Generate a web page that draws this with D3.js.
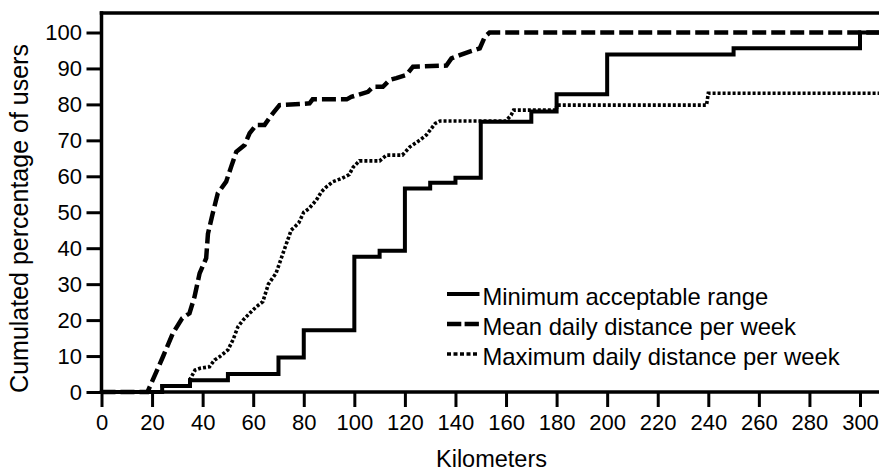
<!DOCTYPE html>
<html>
<head>
<meta charset="utf-8">
<script src="https://cdn.jsdelivr.net/npm/d3@7"></script>
<style>
  html, body { margin: 0; padding: 0; background: #fff; }
  svg { display: block; font-family: "Liberation Sans", Arial, sans-serif; }
</style>
</head>
<body>
<svg id="chart" width="879" height="472"></svg>
<script>
// ---- Data ----
const xTicks = [0, 20, 40, 60, 80, 100, 120, 140, 160, 180, 200, 220, 240, 260, 280, 300];
const yTicks = [0, 10, 20, 30, 40, 50, 60, 70, 80, 90, 100];

const seriesNames = ["Minimum acceptable range", "Mean daily distance per week", "Maximum daily distance per week"];

// Minimum acceptable range (step function)
const minKm  = [0, 24, 35, 50, 70, 80, 100, 110, 120, 130, 140, 150, 170, 180, 200, 250, 300, 307.5];
const minPct = [0, 1.7, 3.3, 5, 9.6, 17.2, 37.6, 39.3, 56.6, 58.2, 59.6, 75.2, 78, 82.8, 93.9, 95.6, 100, 100];

// Mean daily distance per week
const meanKm  = [0, 18.2, 24.3, 28.2, 31.9, 34.8, 36.8, 38.8, 41.4, 42.1, 44, 46, 49.3, 51.3, 53.3, 56.6, 58.6, 61.2, 64.5, 67.2, 70.4, 78.4, 82.3, 83.5, 97, 98.8, 105.4, 107.4, 111.3, 114, 116.6, 120.6, 123.2, 136.4, 138.4, 141.7, 145.6, 149.6, 151.6, 153.5, 307.5];
const meanPct = [0, 0, 9.8, 16.3, 20.5, 21.9, 26.5, 33, 37.2, 44, 49.7, 55.3, 58.5, 62.7, 66.8, 68.7, 72, 74.3, 74.3, 77, 79.8, 80.1, 80.3, 81.4, 81.4, 82.1, 83.5, 84.9, 84.9, 86.8, 87.3, 88.2, 90.5, 90.8, 92.8, 93.7, 94.7, 95.6, 98.8, 100, 100];

// Maximum daily distance per week
const maxKm  = [0, 24, 24, 35, 35, 37, 39, 42.7, 44.7, 46.7, 50, 52, 54, 56, 58.6, 61.2, 63.8, 66, 69, 71, 73, 75, 78, 80, 82, 85, 87, 89, 91.5, 95, 98, 99.5, 102, 110, 112.7, 119, 122, 126, 128.5, 132, 134, 160, 162, 163, 180, 180, 239.3, 240, 307.5];
const maxPct = [0, 0, 1.7, 1.7, 3.5, 6.1, 6.6, 7, 8.9, 9.8, 11.7, 14.5, 18.2, 20, 21.9, 23.7, 25.1, 30, 33, 37, 41, 45, 47, 50, 51, 53.4, 55.7, 57.1, 58.5, 59.4, 60.5, 62.5, 64.3, 64.3, 65.9, 65.9, 68.2, 70.1, 71.5, 74.7, 75.4, 75.4, 77, 78.4, 78.4, 79.8, 79.8, 83.1, 83.1];

// ---- Layout ----
const svg = d3.select("#chart");
const W = 879, H = 472;
const x = d3.scaleLinear().domain([0, 300]).range([101.5, 860]);
const y = d3.scaleLinear().domain([0, 100]).range([392, 32.5]);
const plotTop = 13, plotRight = W;

const zip = (a, b) => a.map((v, i) => [v, b[i]]);

svg.append("defs").append("clipPath").attr("id", "clip")
  .append("rect").attr("x", x(0) - 3).attr("y", plotTop).attr("width", plotRight - x(0) + 3).attr("height", y(0) - plotTop + 4);

// Lines
const lineLin = d3.line().x(d => x(d[0])).y(d => y(d[1]));
const lineStep = d3.line().x(d => x(d[0])).y(d => y(d[1])).curve(d3.curveStepAfter);

const g = svg.append("g").attr("clip-path", "url(#clip)");
g.append("path").datum(zip(meanKm, meanPct))
  .attr("d", lineLin).attr("fill", "none").attr("stroke", "#000")
  .attr("stroke-width", 4.5).attr("stroke-dasharray", "14,5");
g.append("path").datum(zip(minKm, minPct))
  .attr("d", lineStep).attr("fill", "none").attr("stroke", "#000")
  .attr("stroke-width", 4);
g.append("path").datum(zip(maxKm, maxPct))
  .attr("d", lineLin).attr("fill", "none").attr("stroke", "#000")
  .attr("stroke-width", 3.6).attr("stroke-dasharray", "3,2");

// Axes
const yAxis = svg.append("g").attr("transform", `translate(${x(0)},0)`)
  .call(d3.axisLeft(y).tickValues(yTicks).tickSize(15).tickPadding(4.5));
const xAxis = svg.append("g").attr("transform", `translate(0,${y(0)})`)
  .call(d3.axisBottom(x).tickValues(xTicks).tickSize(15).tickPadding(7));
[yAxis, xAxis].forEach(a => {
  a.select(".domain").remove();
  a.selectAll(".tick line").attr("stroke", "#000").attr("stroke-width", 3);
  a.selectAll(".tick text").attr("fill", "#000").style("font-size", "22px")
    .style("font-family", "'Liberation Sans', Arial, sans-serif");
});

// Frame lines: left axis, bottom axis, top border
svg.append("line").attr("x1", x(0)).attr("x2", x(0)).attr("y1", plotTop - 1.75).attr("y2", y(0))
  .attr("stroke", "#000").attr("stroke-width", 3.5);
svg.append("line").attr("x1", x(0) - 1.75).attr("x2", plotRight).attr("y1", y(0)).attr("y2", y(0))
  .attr("stroke", "#000").attr("stroke-width", 3.5);
svg.append("line").attr("x1", x(0) - 1.75).attr("x2", plotRight).attr("y1", plotTop).attr("y2", plotTop)
  .attr("stroke", "#000").attr("stroke-width", 3.5);

// Axis titles
svg.append("text").attr("x", 491.5).attr("y", 466.5).attr("text-anchor", "middle")
  .style("font-size", "23.5px").attr("fill", "#000").text("Kilometers");
svg.append("text").attr("transform", "translate(28,218.5) rotate(-90)").attr("text-anchor", "middle")
  .style("font-size", "25px").attr("fill", "#000").text("Cumulated percentage of users");

// Legend
const legendStyles = [
  { w: 4, dash: null },
  { w: 4.5, dash: "14.3,3.3" },
  { w: 3.6, dash: "4,2.5" }
];
const leg = svg.append("g");
seriesNames.forEach((name, i) => {
  const cy = 294 + i * 30;
  leg.append("line").attr("x1", 447).attr("x2", 479.5).attr("y1", cy).attr("y2", cy)
    .attr("stroke", "#000").attr("stroke-width", legendStyles[i].w)
    .attr("stroke-dasharray", legendStyles[i].dash);
  leg.append("text").attr("x", 482.5).attr("y", cy + 11).style("font-size", "23.8px")
    .attr("fill", "#000").text(name);
});
</script>
</body>
</html>
